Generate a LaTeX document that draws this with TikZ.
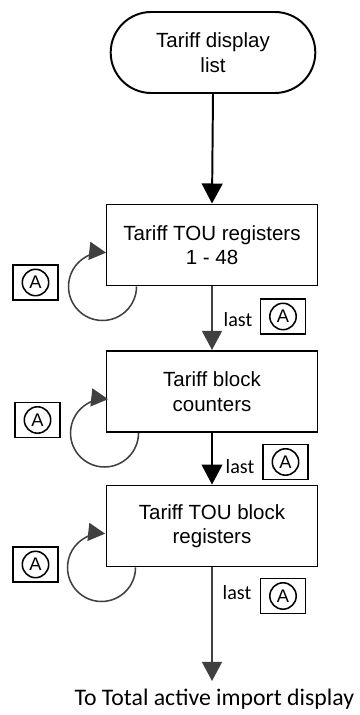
\documentclass[tikz,border=0pt]{standalone}
\usepackage{fontspec}
\setmainfont{Liberation Sans}
\newfontfamily\lastfont{Carlito}
\usetikzlibrary{arrows.meta,shapes.misc}
\definecolor{arrowgray}{HTML}{404040}

\begin{document}
\begin{tikzpicture}[
        stepbox/.style={draw, line width=1.4pt, minimum width=5.275cm, minimum height=2.025cm, align=center, font=\fontsize{14.6}{17.5}\selectfont},
        abox/.style={draw, line width=1.4pt, minimum width=1.125cm, minimum height=0.875cm, inner sep=0pt, font=\fontsize{13}{13}\selectfont,
            path picture={\draw[line width=1.1pt] (path picture bounding box.center) circle (0.33cm);}},
        lastlbl/.style={font=\lastfont\fontsize{14.3}{16}\selectfont},
        blk/.style={line width=1.4pt, -{Triangle[length=0.5cm,width=0.52cm]}},
        gry/.style={draw=arrowgray, fill=arrowgray, line width=1.2pt, -{Triangle[length=0.48cm,width=0.5cm]}},
        selfloop/.style={draw=arrowgray, fill=none, line width=1.1pt, -{Triangle[length=0.42cm,width=0.45cm,fill=arrowgray]}}
    ]
        \useasboundingbox (0,0) rectangle (8.975,17.875);
        % flow of display steps
        \node[rounded rectangle, draw, line width=1.4pt, minimum width=5.35cm, minimum height=2.025cm, align=center, font=\fontsize{14.6}{17.5}\selectfont] (list) at (5.325,16.5625) {Tariff display\\list};
        \node[stepbox] (tou) at (5.3,11.75) {Tariff TOU registers\\1 - 48};
        \node[stepbox] (cnt) at (5.3,8.0875) {Tariff block\\counters};
        \node[stepbox] (toub) at (5.3,4.725) {Tariff TOU block\\registers};
        \coordinate (end) at (5.3,0.85);
        \node[font=\lastfont\fontsize{16.9}{18}\selectfont] (next) at (5.36,0.4) {To Total active import display};

        \draw[blk] (list.south) -- (tou.north);
        \draw[gry] (tou.south) -- (cnt.north);
        \draw[blk] (cnt.south) -- (toub.north);
        \draw[gry] (toub.south) -- (end);

        % repeat loops
        \draw[selfloop] (tou.south west) ++(0.775,0) arc[start angle=0, end angle=-276, radius=0.85];
        \draw[selfloop] (cnt.south west) ++(0.825,0) arc[start angle=0, end angle=-276, radius=0.85];
        \draw[selfloop] (toub.south west) ++(0.75,0) arc[start angle=0, end angle=-276, radius=0.85];

        % key A
        \node[abox] (a1) at (0.8875,10.8125) {A};
        \node[abox] (a2) at (0.9375,7.375) {A};
        \node[abox] (a3) at (0.8875,3.7625) {A};
        \node[abox] (b1) at (7.075,9.9625) {A};
        \node[abox] (b2) at (7.1375,6.325) {A};
        \node[abox] (b3) at (7.075,2.975) {A};
        \node[lastlbl] (l1) at (5.95,9.875) {last};
        \node[lastlbl] (l2) at (6.0,6.2) {last};
        \node[lastlbl] (l3) at (5.925,3.05) {last};
\end{tikzpicture}
\end{document}
